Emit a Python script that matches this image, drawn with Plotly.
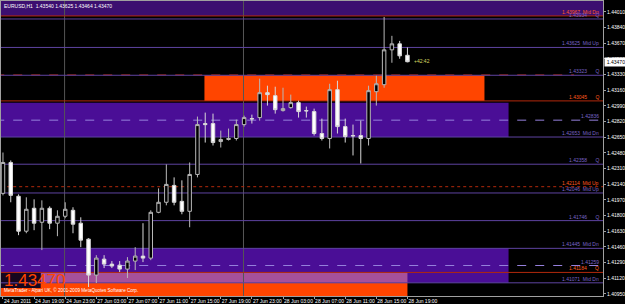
import plotly.graph_objects as go

# ---------------- data ----------------
bar_index = list(range(53))
opens = [1.42042, 1.42377, 1.42010, 1.41631, 1.41880, 1.41728, 1.41880, 1.41718, 1.41793, 1.41858,
         1.41718, 1.41545, 1.41155, 1.41328, 1.41274, 1.41263, 1.41220, 1.41307, 1.41361, 1.41339,
         1.41836, 1.41945, 1.42128, 1.41955, 1.41847, 1.42247, 1.42799, 1.42799, 1.42604, 1.42626,
         1.42637, 1.42788, 1.42853, 1.42864, 1.43134, 1.43102, 1.42940, 1.42972, 1.43026, 1.42940,
         1.42929, 1.42691, 1.42637, 1.43167, 1.42766, 1.42669, 1.42669, 1.42637, 1.43145, 1.43221,
         1.43599, 1.43664, 1.43540]
highs = [1.42485, 1.42399, 1.42031, 1.41999, 1.41977, 1.41966, 1.41901, 1.41858, 1.41945, 1.41891,
         1.41782, 1.41555, 1.41371, 1.41371, 1.41307, 1.41307, 1.41350, 1.41458, 1.41718, 1.41858,
         1.42096, 1.42356, 1.42215, 1.42183, 1.42377, 1.42875, 1.42918, 1.42907, 1.42723, 1.42745,
         1.42842, 1.42885, 1.42896, 1.43286, 1.43210, 1.43199, 1.43188, 1.43113, 1.43048, 1.42983,
         1.42961, 1.42853, 1.43231, 1.43264, 1.42853, 1.42788, 1.42831, 1.43210, 1.43318, 1.43956,
         1.43751, 1.43696, 1.43625]
lows = [1.42020, 1.41945, 1.41588, 1.41609, 1.41642, 1.41426, 1.41653, 1.41577, 1.41772, 1.41609,
        1.41458, 1.41025, 1.41069, 1.41231, 1.41231, 1.41188, 1.41123, 1.41209, 1.41296, 1.41317,
        1.41826, 1.41912, 1.41912, 1.41815, 1.41674, 1.42215, 1.42593, 1.42561, 1.42539, 1.42615,
        1.42615, 1.42766, 1.42799, 1.42831, 1.42994, 1.42907, 1.42929, 1.42961, 1.42864, 1.42864,
        1.42669, 1.42615, 1.42529, 1.42691, 1.42593, 1.42453, 1.42366, 1.42561, 1.42994, 1.43188,
        1.43459, 1.43502, 1.43464]
closes = [1.42377, 1.42020, 1.41631, 1.41869, 1.41718, 1.41880, 1.41718, 1.41793, 1.41869, 1.41707,
          1.41534, 1.41155, 1.41339, 1.41274, 1.41253, 1.41220, 1.41307, 1.41361, 1.41339, 1.41836,
          1.41945, 1.42139, 1.41945, 1.41847, 1.42247, 1.42788, 1.42788, 1.42593, 1.42626, 1.42637,
          1.42788, 1.42864, 1.42850, 1.43134, 1.43113, 1.42950, 1.42961, 1.43026, 1.42929, 1.42937,
          1.42691, 1.42637, 1.43167, 1.42766, 1.42658, 1.42666, 1.42637, 1.43156, 1.43231, 1.43599,
          1.43664, 1.43534, 1.43470]

x_tick_bars = [0, 4, 8, 12, 16, 20, 24, 28, 32, 36, 40, 44, 48, 52]
x_tick_labels = ["24 Jun 2011", "24 Jun 19:00", "24 Jun 23:00", "27 Jun 03:00", "27 Jun 07:00",
                 "27 Jun 11:00", "27 Jun 15:00", "27 Jun 19:00", "27 Jun 23:00", "28 Jun 03:00",
                 "28 Jun 07:00", "28 Jun 11:00", "28 Jun 15:00", "28 Jun 19:00"]
y_tick_values = [1.40950, 1.41120, 1.41290, 1.41460, 1.41630, 1.41800, 1.41970, 1.42140, 1.42310,
                 1.42480, 1.42650, 1.42820, 1.42990, 1.43160, 1.43330, 1.43500, 1.43670, 1.43840,
                 1.44010]

level_prices = [1.43967, 1.43934, 1.43625, 1.43323, 1.43045, 1.42836, 1.42653, 1.42358,
                1.42114, 1.42046, 1.41746, 1.41445, 1.41259, 1.41184, 1.41071]
level_names = ["Mid Dn", "Q", "Mid Up", "Q", "Q", "", "Mid Dn", "Q",
               "Mid Up", "Mid Up", "Q", "Mid Dn", "", "Q", "Mid Dn"]
level_red = [True, False, False, False, True, False, False, False,
             True, False, False, False, False, True, False]
level_dashed = [False, False, False, False, False, True, False, False,
                False, False, False, False, True, False, False]

# zones: (bar_from, bar_to, price_low, price_high)
top_band = (-1, 80, 1.43967, 1.44200)
upper_purple = (-1, 65.0, 1.42653, 1.43026)
lower_purple = (-1, 65.0, 1.41071, 1.41445)
upper_orange = (25.9, 61.9, 1.43045, 1.43323)
lower_orange = (-1, 52.0, 1.40800, 1.41071)
lower_pink = (4.85, 52.0, 1.41071, 1.41184)
label_box = (-1, 4.85, 1.41015, 1.41184)
separator_bars = [8, 31]
red_dash_span = (-1, 73.4)

title_text = "EURUSD,H1  1.43540 1.43625 1.43464 1.43470"
last_price = 1.43470
timer_text = "+42:42"
copyright_text = "MetaTrader - Alpari UK, \u00a9 2001-2009 MetaQuotes Software Corp."

# ---------------- styles ----------------
PURPLE_LINE = "#5e43a0"
PURPLE_DASH = "#9580dc"
PURPLE_TEXT = "#7a64c8"
RED_LINE = "#b3290c"
RED_TEXT = "#ff5a1e"
ZONE_PURPLE = "#4a0e96"
ZONE_TOP = "#3c0f70"
ZONE_ORANGE = "#ff4500"
ZONE_PINK = "#a6509a"
FONT = "Liberation Sans, Arial, sans-serif"
X_FULL = (-1, 80)

fig = go.Figure()
fig.add_trace(go.Candlestick(
    x=bar_index, open=opens, high=highs, low=lows, close=closes,
    increasing=dict(fillcolor="#000000", line=dict(color="#b8b8b8", width=1)),
    decreasing=dict(fillcolor="#ffffff", line=dict(color="#d8d8d8", width=1)),
    whiskerwidth=0, hoverinfo="skip", showlegend=False,
))

shapes = []
def rect(z, color):
    shapes.append(dict(type="rect", xref="x", yref="y", x0=z[0], x1=z[1], y0=z[2], y1=z[3],
                       fillcolor=color, line=dict(width=0), layer="below"))

rect(top_band, ZONE_TOP)
rect(upper_purple, ZONE_PURPLE)
rect(lower_purple, ZONE_PURPLE)
rect(upper_orange, ZONE_ORANGE)
rect(lower_orange, ZONE_ORANGE)
rect(lower_pink, ZONE_PINK)
rect(label_box, "#16061e")

for b in separator_bars:
    shapes.append(dict(type="line", xref="x", yref="y", x0=b - 0.08, x1=b - 0.08,
                       y0=1.40800, y1=1.44200,
                       line=dict(color="#555555", width=1), layer="below"))

# red dashed line along top of upper orange zone
shapes.append(dict(type="line", xref="x", yref="y", x0=red_dash_span[0], x1=red_dash_span[1],
                   y0=upper_orange[3] + 0.00004, y1=upper_orange[3] + 0.00004,
                   line=dict(color=RED_LINE, width=1, dash="dash"), layer="below"))

annotations = []
for p, name, red, dashed in zip(level_prices, level_names, level_red, level_dashed):
    if red:
        col, tcol = RED_LINE, RED_TEXT
    elif dashed:
        col, tcol = PURPLE_DASH, PURPLE_TEXT
    else:
        col, tcol = PURPLE_LINE, PURPLE_TEXT
    dash = "dot" if (red and name == "Mid Up") else ("dash" if dashed else "solid")
    shapes.append(dict(type="line", xref="x", yref="y", x0=X_FULL[0], x1=X_FULL[1], y0=p, y1=p,
                       line=dict(color=col, width=1, dash=dash), layer="below"))
    pad = "\u00a0" * (6 if name == "Q" else 2)
    txt = f"{p:.5f}" + (pad + name if name else "")
    annotations.append(dict(x=1, xref="paper", y=p, yref="y", text=txt, showarrow=False,
                            xanchor="right", yanchor="bottom", xshift=-2, yshift=-1,
                            font=dict(family=FONT, size=5, color=tcol)))

annotations.append(dict(x=0, xref="paper", y=1, yref="paper", text=title_text, showarrow=False,
                        xanchor="left", yanchor="top", xshift=1, yshift=0,
                        font=dict(family=FONT, size=5, color="#ffffff")))
annotations.append(dict(x=1, xref="paper", y=last_price, yref="y", text=f"{last_price:.5f}",
                        showarrow=False, xanchor="left", yanchor="middle", xshift=1,
                        bgcolor="#ffffff", borderpad=1, width=20,
                        font=dict(family=FONT, size=5, color="#000000")))
annotations.append(dict(x=bar_index[-1], xref="x", y=last_price, yref="y", text=timer_text,
                        showarrow=False, xanchor="left", yanchor="middle", xshift=5, yshift=1,
                        font=dict(family=FONT, size=5, color="#d8d860")))
annotations.append(dict(x=0, xref="paper", y=1.41100, yref="y", text=f"{last_price:.5f}",
                        showarrow=False, xanchor="left", yanchor="middle", xshift=1,
                        font=dict(family=FONT, size=17, color=ZONE_ORANGE)))
annotations.append(dict(x=0, xref="paper", y=0, yref="paper", text=copyright_text, showarrow=False,
                        xanchor="left", yanchor="bottom", xshift=1, yshift=1,
                        font=dict(family=FONT, size=4.6, color="#ffffff")))

fig.update_layout(
    width=625, height=304,
    margin=dict(l=0, r=19, t=0, b=8),
    paper_bgcolor="#000000", plot_bgcolor="#000000",
    shapes=shapes, annotations=annotations,
    boxgap=0.36,
    showlegend=False,
    xaxis=dict(range=[-0.255, 77.14], rangeslider=dict(visible=False), showgrid=False,
               zeroline=False, tickvals=x_tick_bars, ticktext=x_tick_labels,
               ticks="outside", ticklen=2, tickcolor="#a0a0a0", tickangle=0,
               ticklabelposition="outside right",
               tickfont=dict(family=FONT, size=5, color="#ffffff"),
               showline=True, linecolor="#a0a0a0", linewidth=1, mirror=True),
    yaxis=dict(range=[1.40928, 1.44129], side="right", showgrid=False, zeroline=False,
               tickvals=y_tick_values, ticktext=[f"{v:.5f}" for v in y_tick_values],
               ticks="outside", ticklen=2, tickcolor="#a0a0a0",
               tickfont=dict(family=FONT, size=5, color="#ffffff"),
               showline=True, linecolor="#a0a0a0", linewidth=1, mirror=True),
)

fig.write_html("out.html")
